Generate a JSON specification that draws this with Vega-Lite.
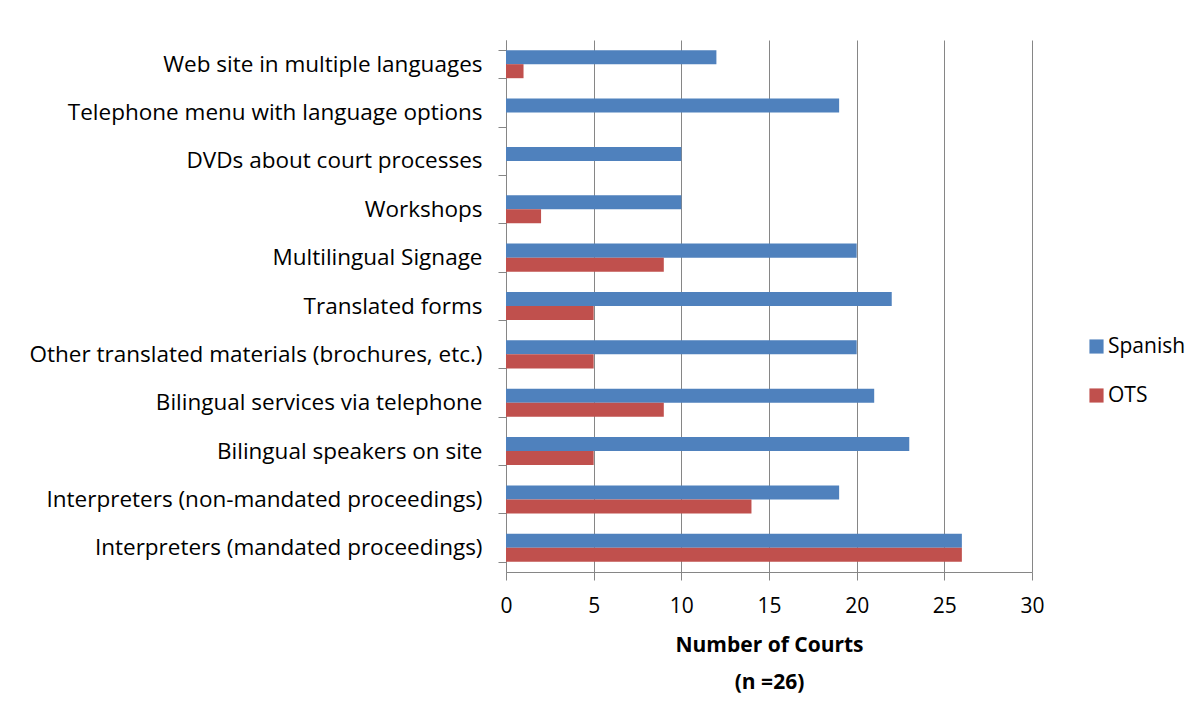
{
  "$schema": "https://vega.github.io/schema/vega-lite/v6.json",
  "width": 526,
  "height": 532,
  "autosize": {"type": "none"},
  "padding": {"left": 506, "top": 40, "right": 172, "bottom": 151},
  "background": "white",
  "config": {
    "view": {"stroke": null},
    "font": "Open Sans"
  },
  "data": {
    "values": [
      {"item": "Web site in multiple languages", "lang": "Spanish", "n": 12},
      {"item": "Web site in multiple languages", "lang": "OTS", "n": 1},
      {"item": "Telephone menu with language options", "lang": "Spanish", "n": 19},
      {"item": "Telephone menu with language options", "lang": "OTS", "n": 0},
      {"item": "DVDs about court processes", "lang": "Spanish", "n": 10},
      {"item": "DVDs about court processes", "lang": "OTS", "n": 0},
      {"item": "Workshops", "lang": "Spanish", "n": 10},
      {"item": "Workshops", "lang": "OTS", "n": 2},
      {"item": "Multilingual Signage", "lang": "Spanish", "n": 20},
      {"item": "Multilingual Signage", "lang": "OTS", "n": 9},
      {"item": "Translated forms", "lang": "Spanish", "n": 22},
      {"item": "Translated forms", "lang": "OTS", "n": 5},
      {"item": "Other translated materials (brochures, etc.)", "lang": "Spanish", "n": 20},
      {"item": "Other translated materials (brochures, etc.)", "lang": "OTS", "n": 5},
      {"item": "Bilingual services via telephone", "lang": "Spanish", "n": 21},
      {"item": "Bilingual services via telephone", "lang": "OTS", "n": 9},
      {"item": "Bilingual speakers on site", "lang": "Spanish", "n": 23},
      {"item": "Bilingual speakers on site", "lang": "OTS", "n": 5},
      {"item": "Interpreters (non-mandated proceedings)", "lang": "Spanish", "n": 19},
      {"item": "Interpreters (non-mandated proceedings)", "lang": "OTS", "n": 14},
      {"item": "Interpreters (mandated proceedings)", "lang": "Spanish", "n": 26},
      {"item": "Interpreters (mandated proceedings)", "lang": "OTS", "n": 26}
    ]
  },
  "mark": {"type": "bar"},
  "encoding": {
    "y": {
      "field": "item",
      "type": "nominal",
      "sort": null,
      "scale": {"paddingInner": 0.42, "paddingOuter": 0.21},
      "axis": {
        "title": null,
        "tickBand": "extent",
        "tickSize": 8,
        "tickColor": "#868686",
        "domainColor": "#868686",
        "labelFontSize": 22.5,
        "labelColor": "#000000",
        "labelPadding": 16,
        "labelLimit": 500,
        "grid": false
      }
    },
    "yOffset": {
      "field": "lang",
      "type": "nominal",
      "sort": ["Spanish", "OTS"]
    },
    "x": {
      "field": "n",
      "type": "quantitative",
      "scale": {"domain": [0, 30], "nice": false},
      "axis": {
        "values": [0, 5, 10, 15, 20, 25, 30],
        "title": ["Number of Courts", "(n =26)"],
        "titleFontSize": 21,
        "titleFontWeight": "bold",
        "titleColor": "#000000",
        "titlePadding": 18,
        "titleLineHeight": 37,
        "labelFontSize": 21,
        "labelColor": "#000000",
        "labelPadding": 15,
        "labelFlush": false,
        "tickSize": 8,
        "tickColor": "#868686",
        "domainColor": "#868686",
        "grid": true,
        "gridColor": "#868686",
        "gridWidth": 1
      }
    },
    "color": {
      "field": "lang",
      "type": "nominal",
      "scale": {"domain": ["Spanish", "OTS"], "range": ["#4F81BD", "#C0504D"]},
      "legend": {
        "title": null,
        "orient": "none",
        "legendX": 580,
        "legendY": 296,
        "symbolType": "square",
        "symbolSize": 200,
        "symbolStrokeWidth": 0,
        "labelFontSize": 21,
        "labelColor": "#000000",
        "rowPadding": 27,
        "labelOffset": 1
      }
    }
  }
}
